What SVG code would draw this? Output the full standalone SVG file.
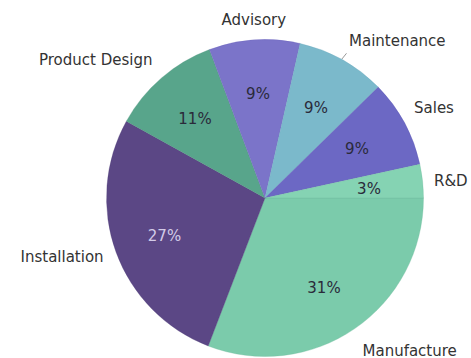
<svg xmlns="http://www.w3.org/2000/svg" width="471" height="358" viewBox="0 0 471 358">
<style>
.lbl{font-family:"DejaVu Sans","Liberation Sans",sans-serif;font-size:15px;fill:#333333}
.pct{font-family:"DejaVu Sans","Liberation Sans",sans-serif;font-size:15px;fill:#2a2a3a;text-anchor:middle}
.sl{stroke-width:0.6;stroke-opacity:0.5}
</style>
<rect width="471" height="358" fill="#ffffff"/>
<g id="connectors">
<line x1="341.7" y1="59.3" x2="346.5" y2="53.3" stroke="#999999" stroke-width="1"/>
</g>
<g id="manufacture">
<path class="sl" d="M265,198 L423.5,198 A158.5,158.5 0 0 1 208.2,345.97 Z" fill="#7bcbab" stroke="#6cb99a"/>
<text class="pct" x="324" y="292.5">31%</text>
<text class="lbl" x="362.5" y="355.5">Manufacture</text>
</g>
<g id="installation">
<path class="sl" d="M265,198 L208.2,345.97 A158.5,158.5 0 0 1 126.37,121.16 Z" fill="#5b4785" stroke="#4d3b75"/>
<text class="pct" x="164.5" y="240.5" style="fill:#d3cbe8">27%</text>
<text class="lbl" x="20.5" y="262">Installation</text>
</g>
<g id="product-design">
<path class="sl" d="M265,198 L126.37,121.16 A158.5,158.5 0 0 1 209.49,49.54 Z" fill="#58a58b" stroke="#4c957c"/>
<text class="pct" x="195" y="123.5">11%</text>
<text class="lbl" x="39" y="65">Product Design</text>
</g>
<g id="advisory">
<path class="sl" d="M265,198 L209.49,49.54 A158.5,158.5 0 0 1 300.12,43.44 Z" fill="#7b74c9" stroke="#6d66b8"/>
<text class="pct" x="258" y="98.5">9%</text>
<text class="lbl" x="221.5" y="25">Advisory</text>
</g>
<g id="maintenance">
<path class="sl" d="M265,198 L300.12,43.44 A158.5,158.5 0 0 1 378.24,87.1 Z" fill="#7bb9cb" stroke="#6ba9bb"/>
<text class="pct" x="316" y="112.5">9%</text>
<text class="lbl" x="349" y="46">Maintenance</text>
</g>
<g id="sales">
<path class="sl" d="M265,198 L378.24,87.1 A158.5,158.5 0 0 1 419.86,164.23 Z" fill="#6c68c4" stroke="#5e5ab3"/>
<text class="pct" x="357" y="153.5">9%</text>
<text class="lbl" x="414" y="113">Sales</text>
</g>
<g id="rd">
<path class="sl" d="M265,198 L419.86,164.23 A158.5,158.5 0 0 1 423.5,198 Z" fill="#85d3b3" stroke="#6cb99a"/>
<text class="pct" x="369" y="193.5">3%</text>
<text class="lbl" x="434" y="186">R&amp;D</text>
</g>
</svg>
